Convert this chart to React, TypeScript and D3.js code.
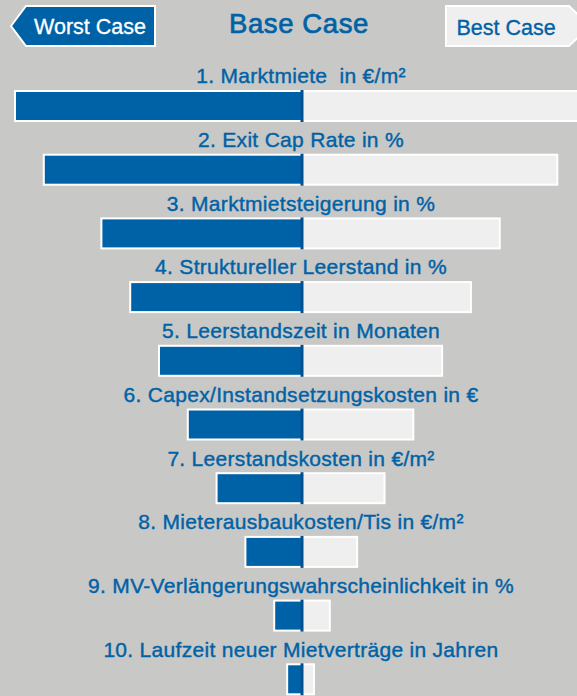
import React, { useRef, useEffect } from 'react';
import * as d3 from 'd3';

const categories = [
  '1. Marktmiete  in €/m²',
  '2. Exit Cap Rate in %',
  '3. Marktmietsteigerung in %',
  '4. Struktureller Leerstand in %',
  '5. Leerstandszeit in Monaten',
  '6. Capex/Instandsetzungskosten in €',
  '7. Leerstandskosten in €/m²',
  '8. Mieterausbaukosten/Tis in €/m²',
  '9. MV-Verlängerungswahrscheinlichkeit in %',
  '10. Laufzeit neuer Mietverträge in Jahren',
];
const worstCase = [-100, -90, -70, -60, -50, -40, -30, -20, -10, -5.5];
const bestCase = [100, 89, 69, 59, 49, 39, 29, 19.5, 10, 4.5];
const headerLabels = ['Worst Case', 'Base Case', 'Best Case'];

const BLUE = '#0062a6';
const LIGHT = '#efefef';
const BG = '#c8c8c6';
const FONT = '"Liberation Sans", Arial, Helvetica, sans-serif';

const App = () => {
  const ref = useRef<SVGSVGElement>(null);

  useEffect(() => {
    const width = 577;
    const height = 696;
    const svg = d3.select(ref.current);
    svg.selectAll('*').remove();

    svg.append('rect').attr('width', width).attr('height', height).attr('fill', BG);

    const x = d3.scaleLinear().domain([-100, 100]).range([14, 590]);
    const y = d3.scaleBand<string>().domain(categories).range([63, 700]).paddingInner(0);
    const barTop = 27;
    const barH = 32;

    // header
    const head = svg.append('g');
    head.append('path')
      .attr('d', 'M11,26 L26,6 L155,6 L155,46 L26,46 Z')
      .attr('fill', BLUE).attr('stroke', '#fff').attr('stroke-width', 2);
    head.append('text').text(headerLabels[0])
      .attr('x', 90).attr('y', 26).attr('dy', '0.35em')
      .attr('text-anchor', 'middle').attr('fill', '#fff')
      .attr('font-family', FONT).attr('font-size', 21.5)
      .attr('stroke', '#fff').attr('stroke-width', 0.3);
    head.append('text').text(headerLabels[1])
      .attr('x', 299).attr('y', 23).attr('dy', '0.35em')
      .attr('text-anchor', 'middle').attr('fill', BLUE)
      .attr('font-family', FONT).attr('font-size', 27.5)
      .attr('letter-spacing', 0.6)
      .attr('stroke', BLUE).attr('stroke-width', 0.7);
    head.append('path')
      .attr('d', 'M446,6 L569,6 L590,26 L569,46 L446,46 Z')
      .attr('fill', LIGHT).attr('stroke', '#fff').attr('stroke-width', 2);
    head.append('text').text(headerLabels[2])
      .attr('x', 506).attr('y', 27).attr('dy', '0.35em')
      .attr('text-anchor', 'middle').attr('fill', BLUE)
      .attr('font-family', FONT).attr('font-size', 21.5)
      .attr('stroke', BLUE).attr('stroke-width', 0.35);

    const rows = svg.selectAll('g.row')
      .data(categories)
      .join('g')
      .attr('class', 'row')
      .attr('transform', (d) => `translate(0,${y(d)})`);

    rows.append('text')
      .text((d) => d)
      .style('white-space', 'pre')
      .attr('x', 301).attr('y', 13).attr('dy', '0.35em')
      .attr('text-anchor', 'middle').attr('fill', BLUE)
      .attr('font-family', FONT).attr('font-size', 21)
      .attr('letter-spacing', 0.3)
      .attr('stroke', BLUE).attr('stroke-width', 0.4);

    rows.append('rect')
      .attr('x', x(0))
      .attr('y', barTop + 1)
      .attr('width', (d, i) => x(bestCase[i]) - x(0) - 1)
      .attr('height', barH - 2)
      .attr('fill', LIGHT).attr('stroke', '#fff').attr('stroke-width', 2);

    rows.append('rect')
      .attr('x', (d, i) => x(worstCase[i]) + 1)
      .attr('y', barTop + 1)
      .attr('width', (d, i) => x(0) - x(worstCase[i]) - 1)
      .attr('height', barH - 2)
      .attr('fill', BLUE).attr('stroke', '#fff').attr('stroke-width', 2);

    rows.append('line')
      .attr('x1', x(0)).attr('x2', x(0))
      .attr('y1', barTop).attr('y2', barTop + barH)
      .attr('stroke', '#00508f').attr('stroke-width', 3);
  }, []);

  return (
    <svg ref={ref} width={577} height={696} style={{ position: 'absolute', left: 0, top: 0, display: 'block' }} />
  );
};

export default App;
